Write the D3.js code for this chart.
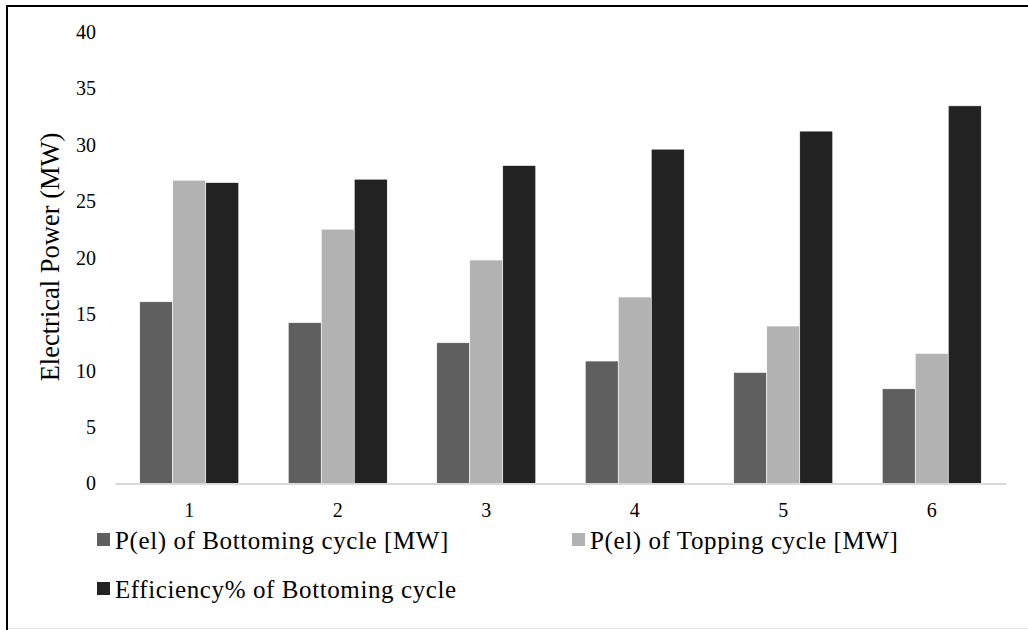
<!DOCTYPE html>
<html>
<head>
<meta charset="utf-8">
<script src="https://cdn.jsdelivr.net/npm/d3@7"></script>
<style>
  html, body { margin: 0; padding: 0; background: #fff; }
  svg { display: block; }
  svg text { font-family: "Liberation Serif", "Times New Roman", Times, serif; fill: #000; }
</style>
</head>
<body>
<svg id="chart" width="1028" height="630"></svg>
<script>
// Cases along the x axis
const categories = ["1", "2", "3", "4", "5", "6"];

// Series values
const bottomingPower = [16.1, 14.25, 12.47, 10.85, 9.84, 8.39];
const toppingPower   = [26.87, 22.53, 19.8, 16.52, 13.95, 11.53];
const bottomingEff   = [26.66, 26.96, 28.17, 29.62, 31.22, 33.46];

const seriesNames = [
  "P(el) of Bottoming cycle [MW]",
  "P(el) of Topping cycle [MW]",
  "Efficiency% of Bottoming cycle"
];
const seriesColors = ["#5f5f5f", "#b2b2b2", "#222222"];

const yTicks = [0, 5, 10, 15, 20, 25, 30, 35, 40];

const series = [bottomingPower, toppingPower, bottomingEff].map((vals, i) => ({
  name: seriesNames[i],
  color: seriesColors[i],
  values: vals
}));

const svg = d3.select("#chart");

// Outer frame: heavy top and left edges, faint bottom edge
svg.append("line").attr("x1", 6).attr("x2", 1028).attr("y1", 6).attr("y2", 6)
  .attr("stroke", "#000").attr("stroke-width", 2);
svg.append("line").attr("x1", 7).attr("x2", 7).attr("y1", 5).attr("y2", 630)
  .attr("stroke", "#000").attr("stroke-width", 2);
svg.append("line").attr("x1", 8).attr("x2", 1028).attr("y1", 628.5).attr("y2", 628.5)
  .attr("stroke", "#e6e6e6").attr("stroke-width", 1);

const plot = { left: 115, right: 1006, top: 32, bottom: 483.5 };

const x = d3.scaleBand().domain(categories).range([plot.left, plot.right]).paddingInner(0).paddingOuter(0);
const groupWidth = x.bandwidth() * 3 / 4.5;
const xInner = d3.scaleBand().domain(d3.range(series.length)).range([0, groupWidth]);
const y = d3.scaleLinear().domain([0, 40]).range([plot.bottom, plot.top]);

// Bars
const groups = svg.append("g").selectAll("g")
  .data(categories)
  .join("g")
  .attr("transform", c => `translate(${x(c) + (x.bandwidth() - groupWidth) / 2},0)`);

groups.selectAll("rect")
  .data((c, ci) => series.map((s, si) => ({ si, v: s.values[ci], color: s.color })))
  .join("rect")
  .attr("x", d => xInner(d.si))
  .attr("width", xInner.bandwidth())
  .attr("y", d => y(d.v))
  .attr("height", d => y(0) - y(d.v))
  .attr("fill", d => d.color)
  .attr("stroke", "#ffffff")
  .attr("stroke-width", 0.6);

// Category axis
const xAxis = svg.append("g")
  .attr("transform", `translate(0,${plot.bottom})`)
  .call(d3.axisBottom(x).tickSize(0).tickPadding(19));
xAxis.attr("font-family", null).attr("font-size", null);
xAxis.select(".domain").attr("stroke", "#d9d9d9").attr("stroke-width", 2);
xAxis.selectAll("text").style("font-size", "20px").attr("fill", "#000");

// Value axis (labels only)
const yAxis = svg.append("g")
  .attr("transform", `translate(96,0)`)
  .call(d3.axisLeft(y).tickValues(yTicks).tickSize(0).tickPadding(0));
yAxis.attr("font-family", null).attr("font-size", null);
yAxis.select(".domain").remove();
yAxis.selectAll("text").style("font-size", "20px").attr("fill", "#000");

// Axis title
svg.append("text")
  .attr("transform", `translate(59,257) rotate(-90)`)
  .attr("text-anchor", "middle")
  .style("font-size", "26.5px")
  .text("Electrical Power (MW)");

// Legend
const legendItems = [
  { s: series[0], x: 97,  y: 540 },
  { s: series[1], x: 572, y: 540 },
  { s: series[2], x: 97,  y: 589 }
];
const legend = svg.append("g").selectAll("g")
  .data(legendItems)
  .join("g")
  .attr("transform", d => `translate(${d.x},${d.y})`);
legend.append("rect")
  .attr("x", 0).attr("y", -7).attr("width", 13).attr("height", 13)
  .attr("fill", d => d.s.color);
legend.append("text")
  .attr("x", 18).attr("y", 0)
  .attr("dy", "0.35em")
  .style("font-size", "25px")
  .style("letter-spacing", "0.6px")
  .text(d => d.s.name);
</script>
</body>
</html>
